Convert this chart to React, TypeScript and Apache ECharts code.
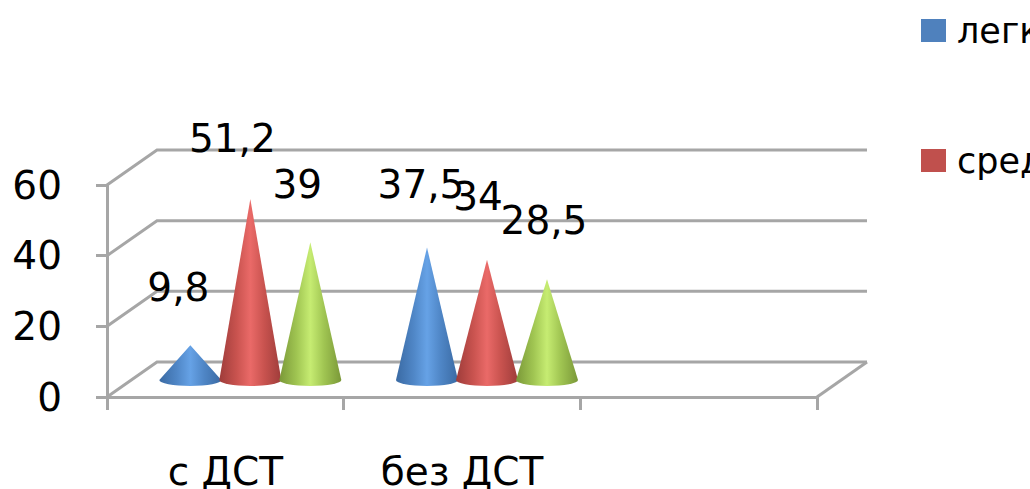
import React, { useEffect, useRef } from "react";
import * as echarts from "echarts";

const categories = ["с ДСТ", "без ДСТ", ""];
const lightValues = [9.8, 37.5];
const mediumValues = [51.2, 34];
const heavyValues = [39, 28.5];
const wallTicks = [0, 20, 40, 60];
const legendNames = ["легкая", "средняя"];

const FONT = "'DejaVu Sans', sans-serif";
const FONT_SIZE = 39;
const GRID_COLOR = "#a6a6a6";
const GRID_WIDTH = 3;

// Oblique projection of the chart box
const DEPTH_X = 50;
const DEPTH_Y = 35;
const CONE_DEPTH_X = 25;
const CONE_DEPTH_Y = 17;
const CONE_SPACING = 60;
const CONE_RX = 31;
const CONE_RY = 6;

// Offset of each value label from its cone's tip
const labelNudgesX = [
  [-12, -6],
  [-18, -9],
  [-13, -3],
];
const labelRise = [
  [58, 63],
  [61, 63],
  [58, 59],
];

const shades = [
  { edge: "#3a6aa3", near: "#4f86c6", mid: "#66a2e6", flat: "#4f81bd" },
  { edge: "#9e3c3a", near: "#c9534f", mid: "#ea6a68", flat: "#c0504d" },
  { edge: "#7a9838", near: "#a0c552", mid: "#c6ec72", flat: "#9bbb59" },
];

const coneItem = (slot: number) => (params: any, api: any) => {
  const cat = api.value(0);
  const value = api.value(1);
  const centre = api.coord([cat, 0]);
  const top = api.coord([cat, value]);
  const cx = centre[0] + CONE_DEPTH_X + (slot - 1) * CONE_SPACING;
  const baseY = centre[1] - CONE_DEPTH_Y;
  const tipY = top[1] - CONE_DEPTH_Y;
  const d = `M${cx - CONE_RX} ${baseY} A${CONE_RX} ${CONE_RY} 0 0 0 ${cx + CONE_RX} ${baseY} L${cx} ${tipY} Z`;
  const shade = shades[slot];
  return {
    type: "group",
    children: [
      {
        type: "path",
        shape: { pathData: d },
        style: {
          fill: new echarts.graphic.LinearGradient(0, 0, 1, 0, [
            { offset: 0, color: shade.edge },
            { offset: 0.28, color: shade.near },
            { offset: 0.5, color: shade.mid },
            { offset: 0.72, color: shade.near },
            { offset: 1, color: shade.edge },
          ]),
        },
      },
      {
        type: "text",
        z2: 10,
        x: cx + labelNudgesX[slot][params.dataIndex],
        y: tipY - labelRise[slot][params.dataIndex],
        style: {
          text: String(value).replace(".", ","),
          font: `${FONT_SIZE}px ${FONT}`,
          fill: "#000",
          align: "center",
          verticalAlign: "middle",
        },
      },
    ],
  };
};

// Side wall, back wall and floor lines of the box
const wallItem = (params: any, api: any) => {
  const value = api.value(1);
  const box = params.coordSys;
  const y = api.coord([0, value])[1];
  const style = { stroke: GRID_COLOR, lineWidth: GRID_WIDTH, fill: "none" };
  const children: any[] = [
    {
      type: "polyline",
      shape: {
        points: [
          [box.x, y],
          [box.x + DEPTH_X, y - DEPTH_Y],
          [box.x + box.width + DEPTH_X, y - DEPTH_Y],
        ],
      },
      style,
    },
  ];
  if (value === 0) {
    children.push({
      type: "line",
      shape: {
        x1: box.x + box.width,
        y1: y,
        x2: box.x + box.width + DEPTH_X,
        y2: y - DEPTH_Y,
      },
      style,
    });
  }
  return { type: "group", children };
};

const toPoints = (values: number[]) => values.map((v, i) => [i, v]);

export default function App() {
  const ref = useRef<HTMLDivElement>(null);

  useEffect(() => {
    document.body.style.margin = "0";
    const chart = echarts.init(ref.current!, null, { renderer: "svg" });
    const axisLine = { color: GRID_COLOR, width: GRID_WIDTH };
    chart.setOption({
      animation: false,
      backgroundColor: "#fff",
      textStyle: { fontFamily: FONT },
      grid: { left: 107, top: 185, width: 710, height: 212, outerBoundsMode: "none" },
      legend: {
        orient: "vertical",
        left: 921,
        top: 13,
        padding: 0,
        itemWidth: 25,
        itemHeight: 23,
        itemGap: 95,
        icon: "rect",
        data: legendNames.map((name, i) => ({
          name,
          itemStyle: { color: shades[i].flat },
        })),
        textStyle: {
          fontSize: 35,
          fontFamily: FONT,
          color: "#000",
          padding: [0, 0, 0, 6],
        },
      },
      xAxis: {
        type: "category",
        data: categories,
        axisLine: { lineStyle: axisLine },
        axisTick: { show: true, alignWithLabel: false, length: 13, lineStyle: axisLine },
        axisLabel: { fontSize: FONT_SIZE, color: "#000", margin: 55, fontFamily: FONT },
      },
      yAxis: {
        type: "value",
        min: 0,
        max: 60,
        interval: 20,
        splitLine: { show: false },
        axisLine: { show: true, lineStyle: axisLine },
        axisTick: { show: true, length: 11, lineStyle: axisLine },
        axisLabel: { fontSize: FONT_SIZE, color: "#000", margin: 45, fontFamily: FONT },
      },
      series: [
        {
          type: "custom",
          name: "стенки",
          silent: true,
          z: 1,
          renderItem: wallItem,
          data: wallTicks.map((v) => [0, v]),
        },
        {
          type: "custom",
          name: "легкая",
          z: 2,
          renderItem: coneItem(0),
          itemStyle: { color: shades[0].flat },
          data: toPoints(lightValues),
        },
        {
          type: "custom",
          name: "средняя",
          z: 3,
          renderItem: coneItem(1),
          itemStyle: { color: shades[1].flat },
          data: toPoints(mediumValues),
        },
        {
          type: "custom",
          name: "тяжелая",
          z: 4,
          renderItem: coneItem(2),
          itemStyle: { color: shades[2].flat },
          data: toPoints(heavyValues),
        },
      ],
    });
    return () => chart.dispose();
  }, []);

  return <div ref={ref} style={{ width: 1030, height: 489, overflow: "hidden" }} />;
}
